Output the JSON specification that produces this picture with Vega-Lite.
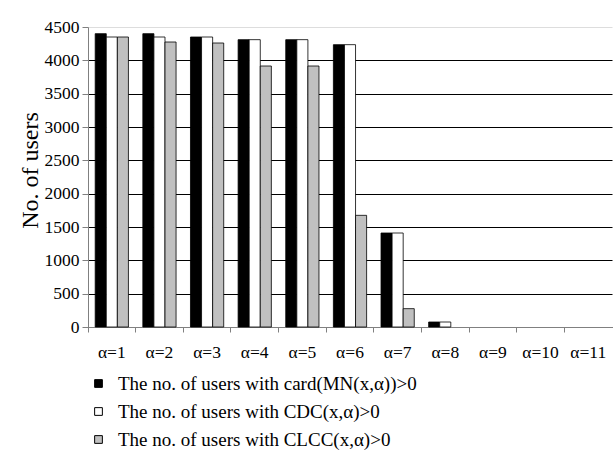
{
  "$schema": "https://vega.github.io/schema/vega-lite/v6.json",
  "autosize": {"type": "none"},
  "width": 524,
  "height": 300,
  "padding": {"left": 88, "top": 27, "right": 1, "bottom": 123},
  "background": "#ffffff",
  "data": {"values": [
    {"alpha": "α=1", "series": "The no. of users with card(MN(x,α))>0", "users": 4400},
    {"alpha": "α=1", "series": "The no. of users with CDC(x,α)>0", "users": 4350},
    {"alpha": "α=1", "series": "The no. of users with CLCC(x,α)>0", "users": 4350},
    {"alpha": "α=2", "series": "The no. of users with card(MN(x,α))>0", "users": 4400},
    {"alpha": "α=2", "series": "The no. of users with CDC(x,α)>0", "users": 4350},
    {"alpha": "α=2", "series": "The no. of users with CLCC(x,α)>0", "users": 4275},
    {"alpha": "α=3", "series": "The no. of users with card(MN(x,α))>0", "users": 4350},
    {"alpha": "α=3", "series": "The no. of users with CDC(x,α)>0", "users": 4350},
    {"alpha": "α=3", "series": "The no. of users with CLCC(x,α)>0", "users": 4260},
    {"alpha": "α=4", "series": "The no. of users with card(MN(x,α))>0", "users": 4310},
    {"alpha": "α=4", "series": "The no. of users with CDC(x,α)>0", "users": 4310},
    {"alpha": "α=4", "series": "The no. of users with CLCC(x,α)>0", "users": 3915},
    {"alpha": "α=5", "series": "The no. of users with card(MN(x,α))>0", "users": 4310},
    {"alpha": "α=5", "series": "The no. of users with CDC(x,α)>0", "users": 4310},
    {"alpha": "α=5", "series": "The no. of users with CLCC(x,α)>0", "users": 3915},
    {"alpha": "α=6", "series": "The no. of users with card(MN(x,α))>0", "users": 4235},
    {"alpha": "α=6", "series": "The no. of users with CDC(x,α)>0", "users": 4235},
    {"alpha": "α=6", "series": "The no. of users with CLCC(x,α)>0", "users": 1675},
    {"alpha": "α=7", "series": "The no. of users with card(MN(x,α))>0", "users": 1410},
    {"alpha": "α=7", "series": "The no. of users with CDC(x,α)>0", "users": 1410},
    {"alpha": "α=7", "series": "The no. of users with CLCC(x,α)>0", "users": 275},
    {"alpha": "α=8", "series": "The no. of users with card(MN(x,α))>0", "users": 75},
    {"alpha": "α=8", "series": "The no. of users with CDC(x,α)>0", "users": 75},
    {"alpha": "α=8", "series": "The no. of users with CLCC(x,α)>0", "users": 0},
    {"alpha": "α=9", "series": "The no. of users with card(MN(x,α))>0", "users": 0},
    {"alpha": "α=9", "series": "The no. of users with CDC(x,α)>0", "users": 0},
    {"alpha": "α=9", "series": "The no. of users with CLCC(x,α)>0", "users": 0},
    {"alpha": "α=10", "series": "The no. of users with card(MN(x,α))>0", "users": 0},
    {"alpha": "α=10", "series": "The no. of users with CDC(x,α)>0", "users": 0},
    {"alpha": "α=10", "series": "The no. of users with CLCC(x,α)>0", "users": 0},
    {"alpha": "α=11", "series": "The no. of users with card(MN(x,α))>0", "users": 0},
    {"alpha": "α=11", "series": "The no. of users with CDC(x,α)>0", "users": 0},
    {"alpha": "α=11", "series": "The no. of users with CLCC(x,α)>0", "users": 0}
  ]},
  "mark": {"type": "bar", "stroke": "#000000", "strokeWidth": 0.8},
  "encoding": {
    "x": {
      "field": "alpha", "type": "nominal",
      "sort": ["α=1","α=2","α=3","α=4","α=5","α=6","α=7","α=8","α=9","α=10","α=11"],
      "scale": {"domain": ["α=1","α=2","α=3","α=4","α=5","α=6","α=7","α=8","α=9","α=10","α=11"], "paddingInner": 0, "paddingOuter": 0},
      "axis": {
        "title": null, "labelAngle": 0, "bandPosition": 0,
        "labelFont": "Liberation Serif", "labelFontSize": 17.5, "labelColor": "#000",
        "labelPadding": 11, "tickSize": 5, "tickColor": "#808080",
        "domainColor": "#808080", "grid": false
      }
    },
    "xOffset": {
      "field": "series", "type": "nominal",
      "sort": ["The no. of users with card(MN(x,α))>0", "The no. of users with CDC(x,α)>0", "The no. of users with CLCC(x,α)>0"],
      "scale": {"domain": ["The no. of users with card(MN(x,α))>0", "The no. of users with CDC(x,α)>0", "The no. of users with CLCC(x,α)>0"], "paddingInner": 0, "paddingOuter": 0.65}
    },
    "y": {
      "field": "users", "type": "quantitative",
      "scale": {"domain": [0, 4500], "nice": false},
      "axis": {
        "title": "No. of users", "values": [0,500,1000,1500,2000,2500,3000,3500,4000,4500],
        "format": "d",
        "titleFont": "Liberation Serif", "titleFontSize": 24, "titleFontWeight": "normal", "titleColor": "#000",
        "titlePadding": 2, "titleY": 143,
        "labelFont": "Liberation Serif", "labelFontSize": 17.5, "labelColor": "#000",
        "labelPadding": 3, "tickSize": 6, "tickColor": "#808080",
        "domainColor": "#808080",
        "grid": true,
        "gridColor": {"condition": {"test": "datum.value == 4500", "value": "#dddddd"}, "value": "#000000"},
        "gridOpacity": 1, "gridWidth": 1
      }
    },
    "color": {
      "field": "series", "type": "nominal",
      "sort": ["The no. of users with card(MN(x,α))>0", "The no. of users with CDC(x,α)>0", "The no. of users with CLCC(x,α)>0"],
      "scale": {"domain": ["The no. of users with card(MN(x,α))>0", "The no. of users with CDC(x,α)>0", "The no. of users with CLCC(x,α)>0"], "range": ["#000000", "#ffffff", "#c0c0c0"]},
      "legend": {
        "title": null, "orient": "none", "legendX": 1, "legendY": 347, "direction": "vertical",
        "symbolType": "square", "symbolSize": 60, "symbolStrokeColor": "#000", "symbolStrokeWidth": 1,
        "labelFont": "Liberation Serif", "labelFontSize": 19, "labelColor": "#000",
        "labelOffset": 10, "rowPadding": 8, "labelLimit": 500
      }
    }
  },
  "transform": [{"filter": "datum.users > 0"}],
  "config": {"view": {"stroke": null}}
}
